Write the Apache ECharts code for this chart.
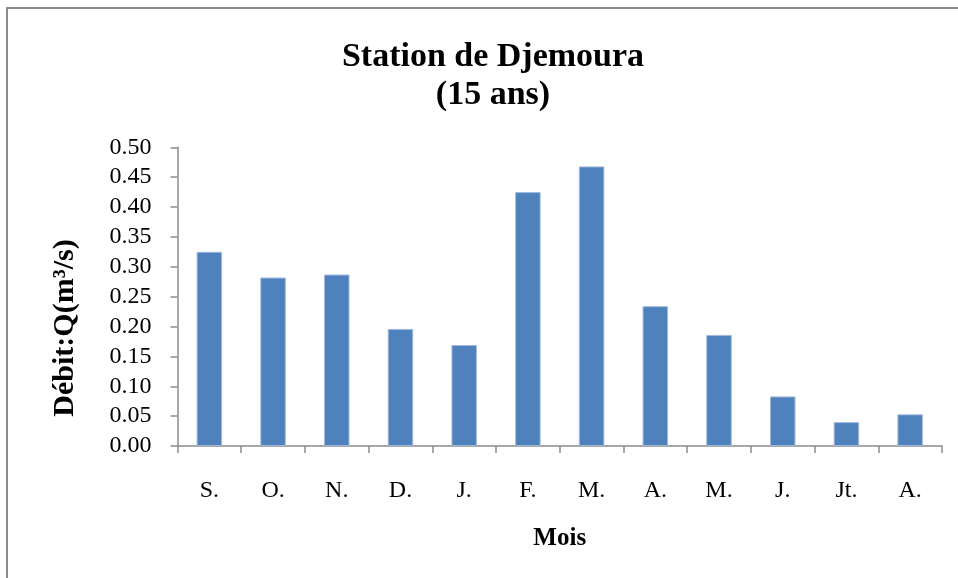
<!DOCTYPE html>
<html>
<head>
<meta charset="utf-8">
<script src="https://cdn.jsdelivr.net/npm/echarts@6/dist/echarts.min.js"></script>
<style>html,body{margin:0;padding:0;background:#fff}#c{width:958px;height:578px}</style>
</head>
<body>
<div id="c"></div>
<script>
var categories = ['S.', 'O.', 'N.', 'D.', 'J.', 'F.', 'M.', 'A.', 'M.', 'J.', 'Jt.', 'A.'];
var debit = [0.325, 0.282, 0.287, 0.196, 0.169, 0.425, 0.468, 0.234, 0.186, 0.083, 0.040, 0.053];
var titleText = 'Station de Djemoura\n(15 ans)';
var xName = 'Mois';
var yName = 'Débit:Q(m³/s)';

var chart = echarts.init(document.getElementById('c'));
var serif = '"Liberation Serif", "Times New Roman", serif';
chart.setOption({
  animation: false,
  backgroundColor: '#fff',
  title: {
    text: titleText,
    left: 488, top: 33, textAlign: 'center',
    textStyle: { fontFamily: serif, fontWeight: 'bold', fontSize: 34, lineHeight: 38, color: '#000' }
  },
  grid: { left: 177.5, right: 16, top: 147.3, bottom: 132, containLabel: false },
  xAxis: {
    type: 'category',
    data: categories,
    boundaryGap: true,
    name: xName,
    nameLocation: 'middle',
    nameGap: 80,
    nameTextStyle: { fontFamily: serif, fontWeight: 'bold', fontSize: 25, color: '#000' },
    axisLine: { lineStyle: { color: '#8c8c8c', width: 1.5 } },
    axisTick: { show: true, length: 7, lineStyle: { color: '#8c8c8c', width: 1.5 } },
    axisLabel: { margin: 33, fontFamily: serif, fontSize: 24, color: '#000' }
  },
  yAxis: {
    type: 'value',
    min: 0, max: 0.5, interval: 0.05,
    splitLine: { show: false },
    axisLine: { show: true, lineStyle: { color: '#8c8c8c', width: 1.5 } },
    axisTick: { show: true, length: 7, lineStyle: { color: '#8c8c8c', width: 1.5 } },
    axisLabel: { margin: 26, fontFamily: serif, fontSize: 24, color: '#000',
      formatter: function (v) { return v.toFixed(2); } }
  },
  graphic: [
    { type: 'rect', shape: { x: 7, y: 8, width: 1000, height: 600 }, style: { fill: 'none', stroke: '#8c8c8c', lineWidth: 2 }, z: 0 },
    { type: 'text', x: 65, y: 328, rotation: Math.PI / 2,
      style: { text: yName, fontFamily: serif, fontWeight: 'bold', fontSize: 30, fill: '#000', textAlign: 'center', textVerticalAlign: 'middle' } }
  ],
  series: [{
    type: 'bar',
    data: debit,
    barWidth: '40%',
    itemStyle: { color: '#4f81bd', borderColor: '#9fb9dc', borderWidth: 1 }
  }]
});
</script>
</body>
</html>
